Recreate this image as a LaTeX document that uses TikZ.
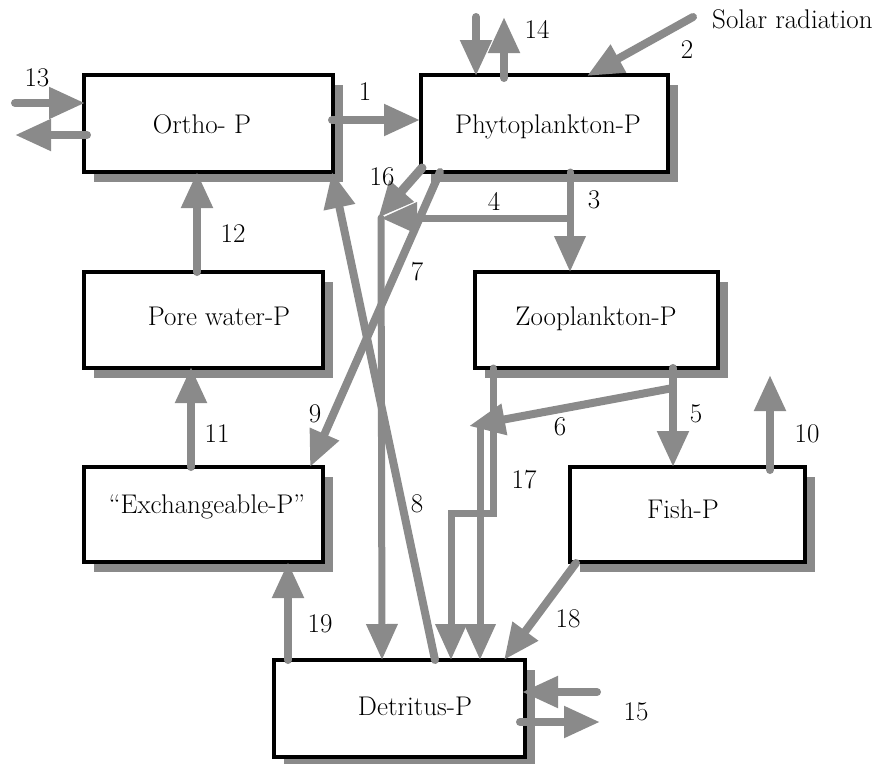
\documentclass[tikz,border=0pt]{standalone}
\usetikzlibrary{arrows.meta,shadows}
\definecolor{fg}{RGB}{138,138,138}
\tikzset{
 box/.style={draw=black, line width=3.5pt, fill=white, inner sep=0pt, outer sep=0pt, anchor=north west,
   drop shadow={shadow xshift=10pt, shadow yshift=-10pt, fill=fg, opacity=1}},
 txt/.style={font=\fontsize{27}{32}\selectfont, anchor=base, inner sep=0pt},
 flow/.style={draw=fg, line width=8pt, line cap=round, -{Triangle[length=36pt,width=30pt]}},
 thinflow/.style={flow, line width=7pt},
}
\begin{document}
\begin{tikzpicture}[x=1pt,y=-1pt]
\useasboundingbox (0,0) rectangle (891,763);
% boxes
\node[box, minimum width=249pt, minimum height=97pt] (ortho) at (84,75) {};
\node[box, minimum width=247pt, minimum height=97pt] (phyto) at (421,75) {};
\node[box, minimum width=239pt, minimum height=96pt] (pore) at (84,272) {};
\node[box, minimum width=243pt, minimum height=96pt] (zoo) at (475,272) {};
\node[box, minimum width=239pt, minimum height=95pt] (exch) at (84,467) {};
\node[box, minimum width=235pt, minimum height=95pt] (fish) at (570,467) {};
\node[box, minimum width=251pt, minimum height=97pt] (detr) at (274,660) {};
% box texts
\node[txt] (tortho) at (202,133) {Ortho- P};
\node[txt] (tphyto) at (548,133) {Phytoplankton-P};
\node[txt] (tpore) at (219,325) {Pore water-P};
\node[txt] (tzoo) at (596,325) {Zooplankton-P};
\node[txt] (texch) at (207,513) {``Exchangeable-P''};
\node[txt] (tfish) at (683,518) {Fish-P};
\node[txt] (tdetr) at (415,715) {Detritus-P};
\node[txt, anchor=base west] (tsolar) at (712,28) {Solar radiation};
% coordinates
\coordinate (a13i) at (15,103); \coordinate (b13i) at (85,103);
\coordinate (a13o) at (87,135); \coordinate (b13o) at (15,135);
\coordinate (a1) at (332,120); \coordinate (b1) at (420,120);
\coordinate (a14i) at (476,17); \coordinate (b14i) at (476,76);
\coordinate (a14o) at (504,78); \coordinate (b14o) at (504,17);
\coordinate (a2) at (693,17); \coordinate (b2) at (587,76);
\coordinate (a3) at (570,172); \coordinate (b3) at (570,272);
\coordinate (a4) at (570,218); \coordinate (j4) at (381,218);
\coordinate (a16) at (422,168); \coordinate (b16) at (378,218);
\coordinate (d16) at (382,660);
\coordinate (a7) at (440,172); \coordinate (b7) at (310,467);
\coordinate (a8) at (435,660); \coordinate (b8) at (332,172);
\coordinate (a12) at (197,272); \coordinate (b12) at (197,172);
\coordinate (a11) at (191,467); \coordinate (b11) at (191,367);
\coordinate (a19) at (288,660); \coordinate (b19) at (288,562);
\coordinate (a5) at (673,368); \coordinate (b5) at (673,467);
\coordinate (a6) at (673,388); \coordinate (b6) at (469,426);
\coordinate (j6) at (480,426); \coordinate (d6) at (480,660);
\coordinate (a17) at (493,368); \coordinate (k17) at (451,513); \coordinate (d17) at (451,660);
\coordinate (a10) at (770,470); \coordinate (b10) at (770,375);
\coordinate (a18) at (576,563); \coordinate (b18) at (504,660);
\coordinate (a15i) at (597,692); \coordinate (b15i) at (522,692);
\coordinate (a15o) at (520,722); \coordinate (b15o) at (600,722);
% connectors
\draw[flow] (a13i) -- (b13i);
\draw[flow] (a13o) -- (b13o);
\draw[flow] (a1) -- (b1);
\draw[flow] (a14i) -- (b14i);
\draw[flow] (a14o) -- (b14o);
\draw[flow] (a2) -- (b2);
\draw[thinflow] (a3) -- (b3);
\draw[thinflow] (a4) -- (j4);
\draw[flow, line width=9pt] (a16) -- (b16);
\draw[thinflow] (j4) -- (d16);
\draw[flow] (a7) -- (b7);
\draw[flow] (a8) -- (b8);
\draw[flow] (a12) -- (b12);
\draw[flow] (a11) -- (b11);
\draw[flow] (a19) -- (b19);
\draw[flow] (a5) -- (b5);
\draw[flow] (a6) -- (b6);
\draw[thinflow] (j6) -- (d6);
\draw[thinflow] (a17) |- (k17) -- (d17);
\draw[flow] (a10) -- (b10);
\draw[flow] (a18) -- (b18);
\draw[flow] (a15i) -- (b15i);
\draw[flow] (a15o) -- (b15o);
% labels
\node[txt] (n1) at (365,100) {1};
\node[txt] (n2) at (687,58) {2};
\node[txt] (n3) at (594,208) {3};
\node[txt] (n4) at (494,210) {4};
\node[txt] (n5) at (696,422) {5};
\node[txt] (n6) at (560,435) {6};
\node[txt] (n7) at (417,280) {7};
\node[txt] (n8) at (417,512) {8};
\node[txt] (n9) at (315,422) {9};
\node[txt] (n10) at (807,442) {10};
\node[txt] (n11) at (217,442) {11};
\node[txt] (n12) at (233,242) {12};
\node[txt] (n13) at (37,86) {13};
\node[txt] (n14) at (537,38) {14};
\node[txt] (n15) at (636,720) {15};
\node[txt] (n16) at (382,185) {16};
\node[txt] (n17) at (524,488) {17};
\node[txt] (n18) at (568,627) {18};
\node[txt] (n19) at (320,632) {19};
\end{tikzpicture}
\end{document}
